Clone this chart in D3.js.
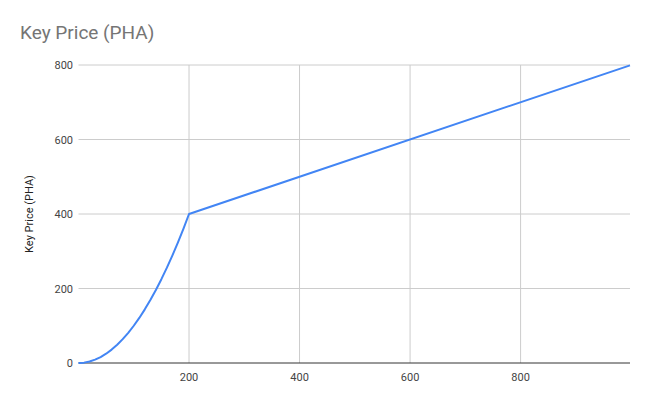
<!DOCTYPE html>
<html><head><meta charset="utf-8">
<script src="https://cdn.jsdelivr.net/npm/d3@7"></script>
<style>body{margin:0;background:#fff;font-family:Roboto,Arial,sans-serif}</style>
</head><body><svg id="c" width="651" height="403"></svg>
<script>
const xValues = [0, 10, 20, 30, 40, 50, 60, 70, 80, 90, 100, 110, 120, 130, 140, 150, 160, 170, 180, 190, 200, 998];
const yValues = [0, 1, 4, 9, 16, 25, 36, 49, 64, 81, 100, 121, 144, 169, 196, 225, 256, 289, 324, 361, 400, 799];
const xTicks = [200, 400, 600, 800];
const yTicks = [0, 200, 400, 600, 800];

const svg = d3.select("#c");
const x = d3.scaleLinear().domain([0, 998]).range([78.5, 630]);
const y = d3.scaleLinear().domain([0, 800]).range([363, 65]);

svg.append("text").attr("x", 20).attr("y", 39).attr("fill", "#757575")
  .attr("font-size", 19).text("Key Price (PHA)");
svg.append("text").attr("transform", "translate(33,214) rotate(-90)")
  .attr("text-anchor", "middle").attr("font-size", 11).attr("fill", "#222").text("Key Price (PHA)");

svg.append("g").selectAll("line").data(yTicks.filter(d => d > 0)).join("line")
  .attr("x1", 78.5).attr("x2", 630).attr("y1", d => y(d)).attr("y2", d => y(d))
  .attr("stroke", "#cccccc");
svg.append("g").selectAll("line").data(xTicks).join("line")
  .attr("y1", 65).attr("y2", 363).attr("x1", d => x(d)).attr("x2", d => x(d))
  .attr("stroke", "#cccccc");
svg.append("line").attr("x1", 78.5).attr("x2", 630).attr("y1", 363).attr("y2", 363).attr("stroke", "#333");

svg.append("g").selectAll("text").data(yTicks).join("text")
  .attr("x", 73).attr("y", d => y(d) + 4).attr("text-anchor", "end")
  .attr("font-size", 11).attr("fill", "#444").text(d => d);
svg.append("g").selectAll("text").data(xTicks).join("text")
  .attr("x", d => x(d)).attr("y", 381).attr("text-anchor", "middle")
  .attr("font-size", 11).attr("fill", "#444").text(d => d);

const pts = xValues.map((v, i) => [v, yValues[i]]);
svg.append("path").datum(pts)
  .attr("d", d3.line().x(d => x(d[0])).y(d => y(d[1])))
  .attr("fill", "none").attr("stroke", "#4285f4").attr("stroke-width", 2)
  .attr("stroke-linejoin", "round");
</script></body></html>
